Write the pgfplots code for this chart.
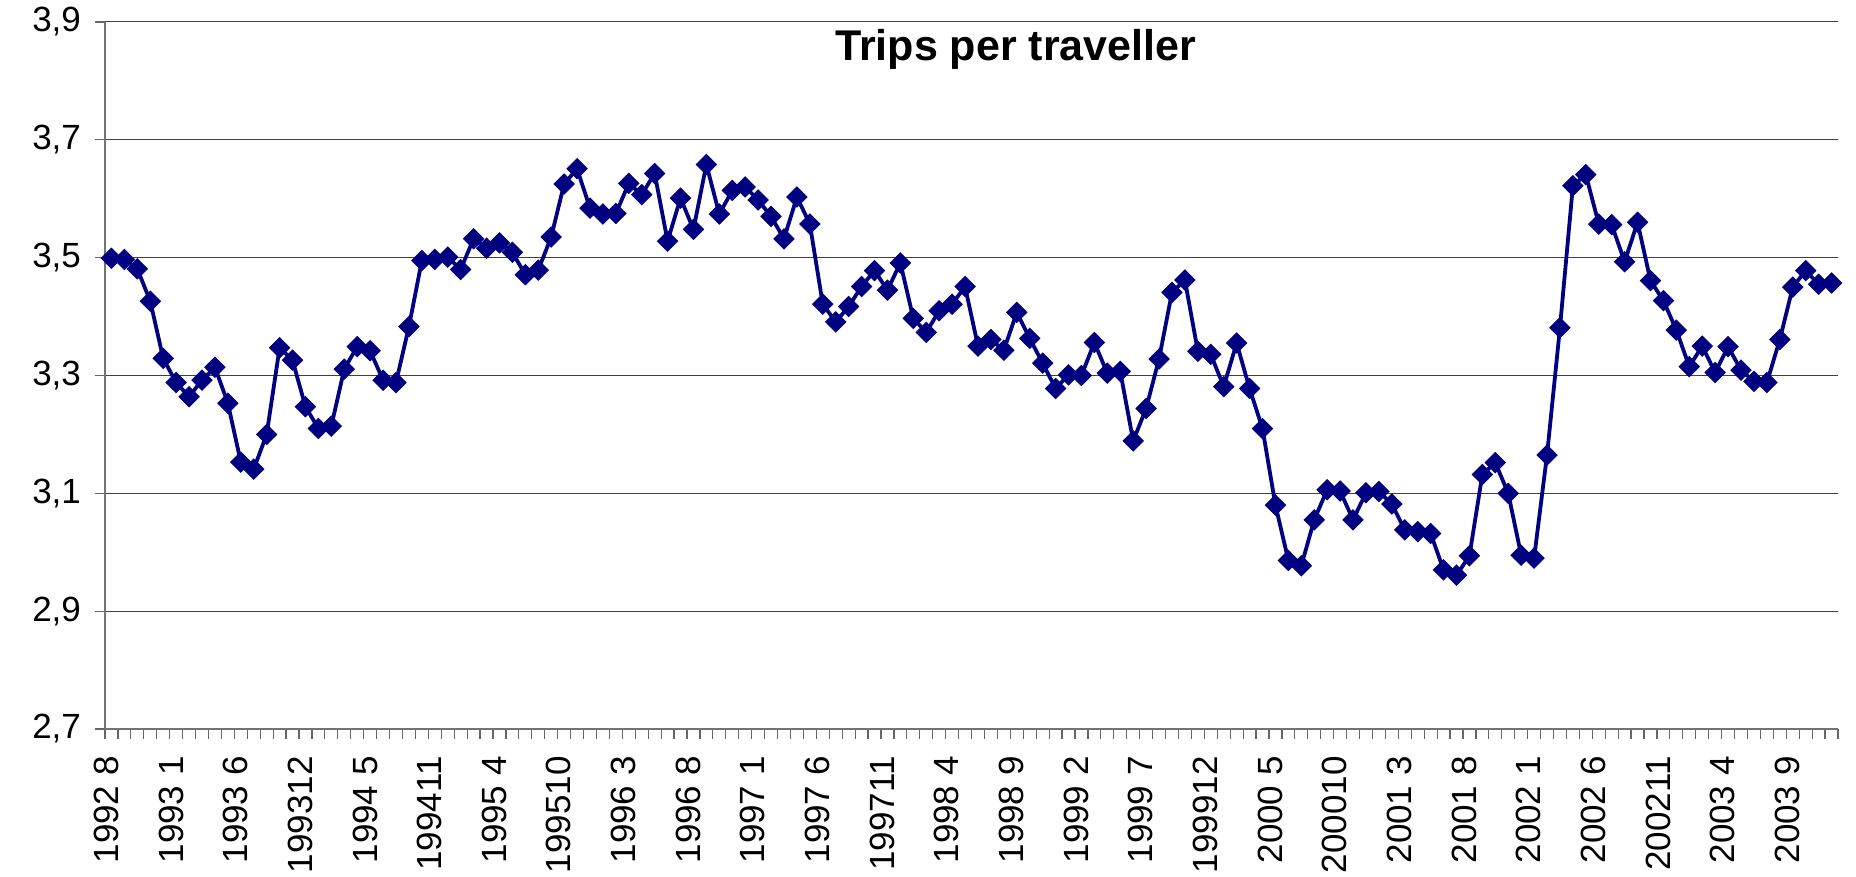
\documentclass[border=0pt]{standalone}
\usepackage{fontspec}
\setmainfont{Liberation Sans}
\usepackage{pgfplots}
\pgfplotsset{compat=1.18}
\definecolor{navy}{HTML}{000080}

\begin{document}
\begin{tikzpicture}
\begin{axis}[
    scale only axis,
    width=866.5pt, height=353.5pt,
    xmin=-0.5, xmax=133.5,
    ymin=2.7, ymax=3.9,
    ytick={2.7,2.9,...,3.95},
    axis x line=bottom, axis y line=left,
    axis line style={-, draw=black!55, line width=0.6pt},
    ymajorgrids,
    grid style={black!75, line width=0.5pt},
    tick align=outside,
    major tick length=5pt,
    tick style={black!60, line width=0.6pt},
    xtick={-0.5,0.5,...,133.6},
    xticklabels={},
    % labels sit on the tick between two months, as in the original
    extra x ticks={-0.4,4.6,...,129.7},
    extra x tick labels={1992 8,1993 1,1993 6,199312,1994 5,199411,1995 4,199510,1996 3,1996 8,1997 1,1997 6,199711,1998 4,1998 9,1999 2,1999 7,199912,2000 5,200010,2001 3,2001 8,2002 1,2002 6,200211,2003 4,2003 9},
    extra x tick style={tick style={draw=none},
        xticklabel style={rotate=90, anchor=east, inner ysep=0pt, inner xsep=8.5pt,
            font=\fontsize{17.5}{17.5}\selectfont}},
    tick label style={font=\fontsize{17.5}{17.5}\selectfont},
    yticklabel style={xshift=-3.5pt, /pgf/number format/.cd, fixed, fixed zerofill, precision=1, use comma, assume math mode=true},
    title={\textbf{Trips per traveller}},
    title style={at={(axis description cs:0.5255,0.929)}, anchor=base,
        font=\fontsize{21.5}{21.5}\selectfont},
]
\addplot[color=navy, line width=1.9pt, mark=square*, mark size=3.6pt,
    mark options={rotate=45, fill=navy, draw=navy, line width=0.4pt}]
    table {
x y
0 3.499
1 3.497
2 3.481
3 3.426
4 3.329
5 3.288
6 3.264
7 3.292
8 3.314
9 3.253
10 3.153
11 3.141
12 3.200
13 3.347
14 3.326
15 3.247
16 3.210
17 3.214
18 3.311
19 3.349
20 3.342
21 3.292
22 3.288
23 3.383
24 3.495
25 3.497
26 3.501
27 3.480
28 3.532
29 3.516
30 3.525
31 3.509
32 3.471
33 3.479
34 3.535
35 3.625
36 3.651
37 3.584
38 3.574
39 3.575
40 3.626
41 3.607
42 3.643
43 3.528
44 3.601
45 3.548
46 3.658
47 3.574
48 3.614
49 3.620
50 3.598
51 3.570
52 3.532
53 3.603
54 3.557
55 3.421
56 3.391
57 3.417
58 3.451
59 3.478
60 3.445
61 3.491
62 3.397
63 3.373
64 3.410
65 3.421
66 3.451
67 3.350
68 3.361
69 3.343
70 3.407
71 3.363
72 3.321
73 3.278
74 3.301
75 3.300
76 3.356
77 3.304
78 3.307
79 3.189
80 3.244
81 3.328
82 3.441
83 3.462
84 3.341
85 3.336
86 3.281
87 3.355
88 3.278
89 3.210
90 3.080
91 2.986
92 2.977
93 3.055
94 3.106
95 3.104
96 3.055
97 3.101
98 3.103
99 3.082
100 3.038
101 3.035
102 3.032
103 2.970
104 2.961
105 2.994
106 3.132
107 3.152
108 3.100
109 2.995
110 2.990
111 3.165
112 3.381
113 3.622
114 3.641
115 3.557
116 3.556
117 3.493
118 3.560
119 3.461
120 3.427
121 3.377
122 3.315
123 3.350
124 3.305
125 3.349
126 3.309
127 3.290
128 3.288
129 3.361
130 3.450
131 3.478
132 3.455
133 3.457
};
\end{axis}
\pgfresetboundingbox
\path[use as bounding box] (-52.5pt,-74pt) rectangle (875.5pt,364.5pt);
\end{tikzpicture}
\end{document}
